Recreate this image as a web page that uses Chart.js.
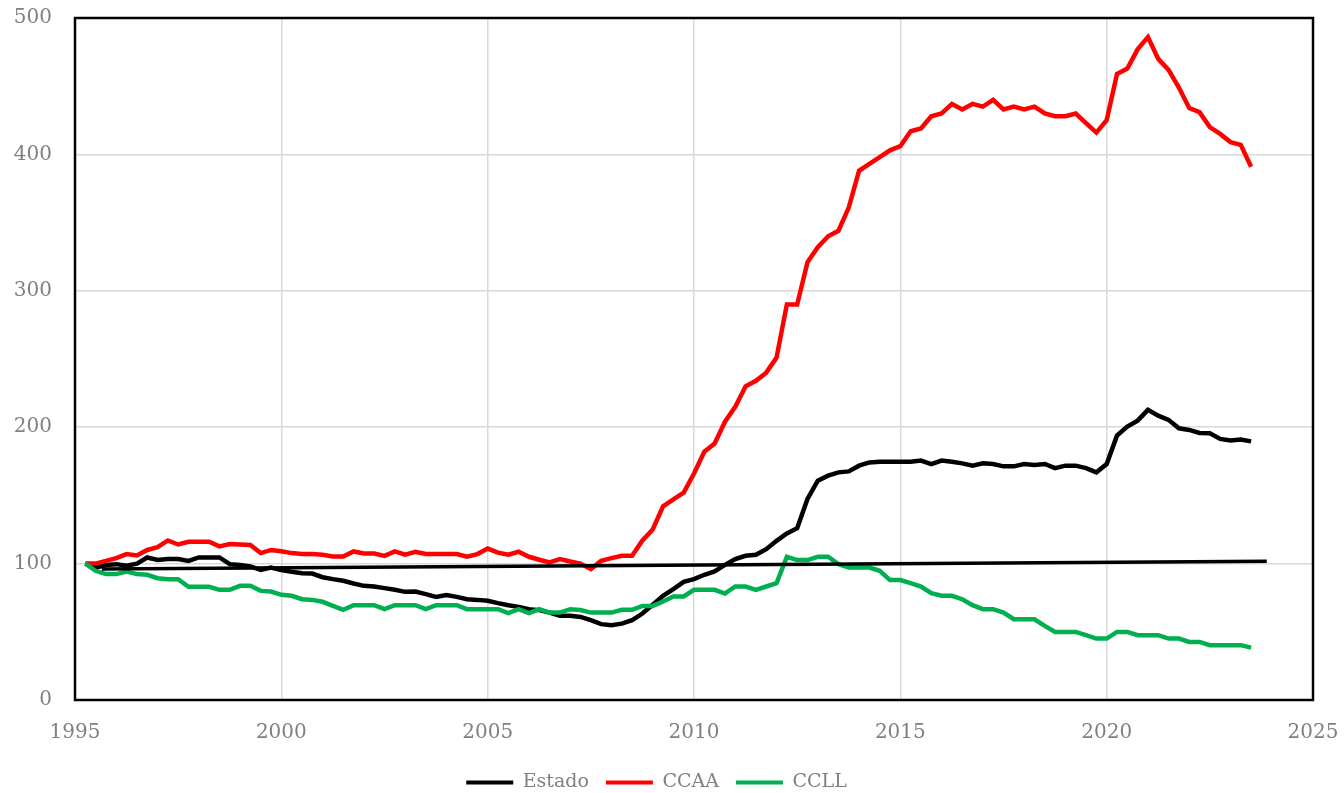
<!DOCTYPE html>
<html>
<head>
<meta charset="utf-8">
<script src="https://cdn.jsdelivr.net/npm/chart.js@4.4.0/dist/chart.umd.min.js"></script>
<style>
  html, body { margin: 0; padding: 0; background: #fff; }
</style>
</head>
<body>
<canvas id="chart" width="1344" height="793"></canvas>
<script>
// serie trimestral, primer dato 1995 T2
const firstQuarter = 1995.25;
const quarterStep = 0.25;

const estado = [
  100, 97, 99,
  99.6, 98.4, 100, 104.5,
  102.6, 103.3, 103.3, 102,
  104.5, 104.5, 104.5, 99.6,
  98.9, 97.9, 95.4, 97.1,
  95.2, 94, 93, 92.7,
  90, 88.6, 87.4, 85.4,
  83.7, 83.2, 82, 80.8,
  79.3, 79.5, 77.6, 75.6,
  76.9, 75.6, 73.9, 73.4,
  72.7, 71, 69.5, 68.3,
  66.6, 65.9, 64.1, 61.7,
  61.7, 60.9, 58.5, 55.6,
  54.8, 56, 58.5, 63.4,
  69.8, 76.4, 81.3, 86.6,
  88.6, 91.8, 94.2, 99.1,
  103.3, 105.7, 106.5, 110.6,
  116.7, 122.1, 126, 147.4,
  160.8, 164.5, 166.9, 167.6,
  171.8, 174.2, 174.7, 174.7,
  174.7, 174.7, 175.5, 173,
  175.5, 174.7, 173.5, 171.8,
  173.5, 173, 171.3, 171.3,
  173, 172.3, 173, 170,
  171.8, 171.8, 170, 166.9,
  173, 193.8, 200.4, 204.8,
  212.7, 208.5, 205.4, 199.2,
  198, 195.8, 195.5, 191.4,
  190.2, 190.9, 189.6
];

const ccaa = [
  100, 100, 102,
  104, 107, 106, 110,
  112, 117, 114, 116,
  116, 116, 112.6, 114.3,
  114, 113.6, 107.7, 110,
  109, 107.7, 107, 107,
  106.5, 105.2, 105.2, 108.9,
  107.4, 107.4, 105.7, 109,
  106.5, 108.7, 107, 107,
  107, 107, 105, 107,
  111, 108, 106.5, 108.7,
  105, 102.8, 100.8, 103.3,
  101.5, 100, 96, 102,
  104, 105.7, 105.7, 117,
  125, 142, 147, 152,
  166, 182, 188, 204,
  215, 230, 234, 240,
  251, 290, 290, 321,
  332, 340, 344, 361,
  388, 393, 398, 403,
  406, 417, 419, 428,
  430, 437, 433, 437,
  435, 440, 433, 435,
  433, 435, 430, 428,
  428, 430, 423, 416,
  425, 459, 463, 477,
  486, 470, 462, 449,
  434, 431, 420, 415,
  409, 407, 391
];

const ccll = [
  100, 94.7, 92.3,
  92.3, 94.2, 92.3, 91.8,
  89.3, 88.6, 88.6, 83,
  83, 83, 80.8, 80.8,
  83.7, 83.7, 80, 79.5,
  77.1, 76.4, 73.9, 73.4,
  72, 69, 66.1, 69.5,
  69.5, 69.5, 66.6, 69.5,
  69.5, 69.5, 66.6, 69.5,
  69.5, 69.5, 66.6, 66.6,
  66.6, 66.6, 63.7, 66.6,
  63.7, 66.6, 64.1, 64.1,
  66.6, 66, 64.1, 64.1,
  64.1, 66.1, 66.1, 69,
  69, 72.2, 75.9, 75.9,
  80.8, 80.8, 80.8, 78,
  83.2, 83.2, 80.8, 83.2,
  85.7, 105, 102.6, 102.6,
  105, 105, 99.6, 97.1,
  97.1, 97.1, 94.7, 87.9,
  87.9, 85.7, 83.2, 78.3,
  76.4, 76.4, 73.9, 69.5,
  66.6, 66.6, 64.1, 59.2,
  59.2, 59.2, 54.3, 49.9,
  49.9, 49.9, 47.5, 45,
  45, 49.9, 49.9, 47.5,
  47.5, 47.5, 45, 45,
  42.6, 42.6, 40.2, 40.2,
  40.2, 40.2, 38.4
];

// recta de tendencia (dos extremos)
const trendX = [1995.65, 2023.88];
const trendY = [96, 101.8];

const xTicks = [1995, 2000, 2005, 2010, 2015, 2020, 2025];
const yTicks = [0, 100, 200, 300, 400, 500];

const toPoints = vals => vals.map((v, i) => ({ x: firstQuarter + i * quarterStep, y: v }));

Chart.defaults.font.family = "'DejaVu Serif', serif";
Chart.defaults.color = "#808080";

// marco negro alrededor del área de trazado
const plotFrame = {
  id: "plotFrame",
  afterDatasetsDraw(chart) {
    const { ctx, chartArea: a } = chart;
    ctx.save();
    ctx.strokeStyle = "#000";
    ctx.lineWidth = 2.5;
    ctx.strokeRect(a.left, a.top, a.right - a.left, a.bottom - a.top);
    ctx.restore();
  }
};

const lineStyle = { borderWidth: 4.5, pointRadius: 0, tension: 0, fill: false };
const hiddenTick = "rgba(0,0,0,0)";

new Chart(document.getElementById("chart").getContext("2d"), {
  type: "line",
  data: {
    datasets: [
      { label: "Estado", data: toPoints(estado), borderColor: "#000000", backgroundColor: "#000000", order: 3, ...lineStyle },
      { label: "CCAA", data: toPoints(ccaa), borderColor: "#ff0000", backgroundColor: "#ff0000", order: 2, ...lineStyle },
      { label: "CCLL", data: toPoints(ccll), borderColor: "#00b050", backgroundColor: "#00b050", order: 1, ...lineStyle },
      {
        label: "tendencia",
        data: trendX.map((x, i) => ({ x, y: trendY[i] })),
        borderColor: "#000000", backgroundColor: "#000000",
        borderWidth: 3.5, pointRadius: 0, order: 0
      }
    ]
  },
  options: {
    responsive: false,
    animation: false,
    layout: { padding: { top: 18, right: 31, bottom: -9, left: 0 } },
    plugins: {
      tooltip: { enabled: false },
      legend: {
        position: "bottom",
        labels: {
          boxWidth: 47,
          boxHeight: 4,
          padding: 17,
          font: { size: 19 },
          color: "#808080",
          generateLabels(chart) {
            return Chart.defaults.plugins.legend.labels.generateLabels(chart)
              .filter(l => l.datasetIndex < 3)
              .sort((a, b) => a.datasetIndex - b.datasetIndex)
              .map(l => Object.assign(l, { lineWidth: 0 }));
          }
        }
      }
    },
    scales: {
      x: {
        type: "linear",
        min: xTicks[0],
        max: xTicks[xTicks.length - 1],
        afterBuildTicks: s => { s.ticks = xTicks.map(v => ({ value: v })); },
        ticks: { padding: 0, font: { size: 20 }, color: "#808080", callback: v => String(v) },
        grid: { color: "#d9d9d9", lineWidth: 1.5, drawTicks: true, tickLength: 21, tickColor: hiddenTick },
        border: { display: false },
        afterFit: s => { s.height = 56; }
      },
      y: {
        min: yTicks[0],
        max: yTicks[yTicks.length - 1],
        afterBuildTicks: s => { s.ticks = yTicks.map(v => ({ value: v })); },
        ticks: { padding: 0, font: { size: 20 }, color: "#808080" },
        grid: { color: "#d9d9d9", lineWidth: 1.5, drawTicks: true, tickLength: 23, tickColor: hiddenTick },
        border: { display: false },
        afterFit: s => { s.width = 75; }
      }
    }
  },
  plugins: [plotFrame]
});
</script>
</body>
</html>
